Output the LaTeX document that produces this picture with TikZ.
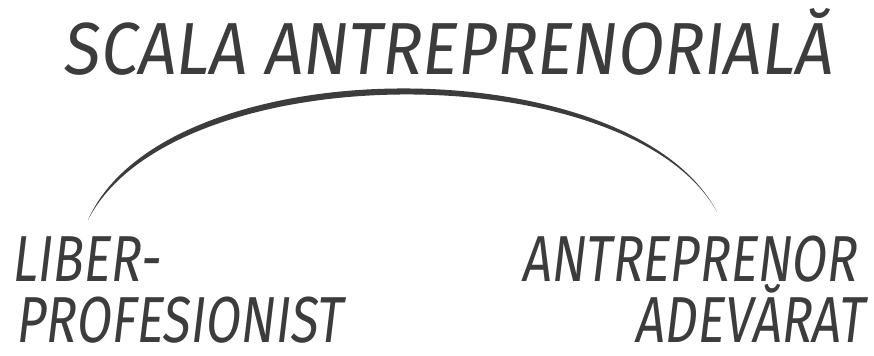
\documentclass[tikz,border=0pt]{standalone}
\usepackage{fontspec}
\newfontfamily\handfont[FakeStretch=0.78,FakeSlant=0.12]{Fira Sans}
\newfontfamily\titlefont[FakeStretch=0.90,FakeSlant=0.12]{Fira Sans}
\definecolor{inkgray}{HTML}{3C3C3C}

\begin{document}
\begin{tikzpicture}[thick,
  hand label/.style={inner sep=0pt,text=inkgray,font=\handfont\fontsize{18.5}{20}\selectfont},
  title label/.style={inner sep=0pt,text=inkgray,font=\titlefont\fontsize{21}{24}\selectfont}]

            \useasboundingbox (0,0) rectangle (8.74,3.56);

            \node[title label, anchor=base] (title) at (4.47,2.81) {SCALA ANTREPRENORIALĂ};
            \node[hand label, anchor=base west] (liber) at (0.10,0.74) {LIBER-};
            \node[hand label, anchor=base west] (profesionist) at (0.14,0.13) {PROFESIONIST};
            \node[hand label, anchor=base east] (antreprenor) at (8.58,0.74) {ANTREPRENOR};
            \node[hand label, anchor=base east] (adevarat) at (8.65,0.13) {ADEVĂRAT};

            \coordinate (arcL) at (0.88,1.36);
            \coordinate (arcR) at (7.17,1.44);

            \fill[inkgray] (arcL) .. controls (1.65,3.10) and (6.3,3.10) .. (arcR)
                  .. controls (6.3,3.02) and (1.73,3.02) .. (arcL);

            ;
        \end{tikzpicture}
\end{document}
